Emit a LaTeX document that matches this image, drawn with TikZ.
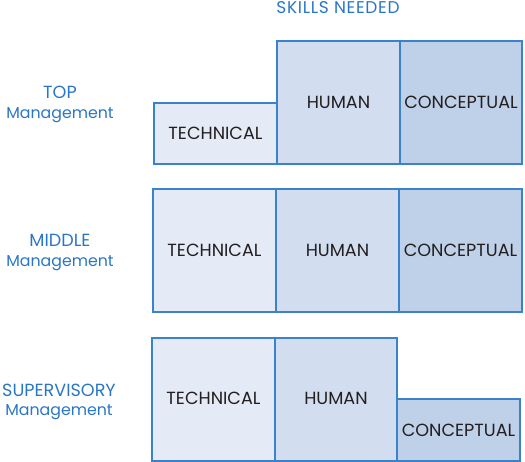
\documentclass[tikz,border=0pt]{standalone}
\usepackage{fontspec}
\setmainfont{Poppins}
\definecolor{edge}{HTML}{3A82CC}
\definecolor{techfill}{HTML}{E4EBF6}
\definecolor{humfill}{HTML}{D2DEF0}
\definecolor{confill}{HTML}{BFD0E9}
\definecolor{lab}{HTML}{2A76C6}
\definecolor{ink}{HTML}{231F20}
\begin{document}
\begin{tikzpicture}[x=1pt,y=-1pt,
  cell/.style={draw=edge,line width=1.2pt},
  tech/.style={cell,fill=techfill},
  hum/.style={cell,fill=humfill},
  con/.style={cell,fill=confill},
  word/.style={inner sep=0pt,text=ink,font=\fontsize{17.6}{20}\selectfont},
  capslbl/.style={inner sep=0pt,anchor=base,text=lab,font=\fontsize{17.6}{20}\selectfont},
  mglbl/.style={inner sep=0pt,anchor=base,text=lab,font=\fontsize{15.8}{20}\selectfont}]
\useasboundingbox (0,0) rectangle (525,462);
\node[capslbl,font=\fontsize{17}{20}\selectfont\addfontfeature{LetterSpace=4}] (skills) at (338,14) {SKILLS NEEDED};
% top
\node[capslbl] (toplab) at (60,99) {TOP};
\node[mglbl] (topmg) at (60,119) {Management};
\draw[tech] (154,103) rectangle (277,164);
\draw[hum] (277,41) rectangle (400,164);
\draw[con] (400,41) rectangle (522,164);
\node[word] (t1) at (215.5,133) {TECHNICAL};
\node[word] (h1) at (338.5,102) {HUMAN};
\node[word] (c1) at (461,102) {CONCEPTUAL};
% middle
\node[capslbl] (midlab) at (60,246.5) {MIDDLE};
\node[mglbl] (midmg) at (60,266.5) {Management};
\draw[tech] (153,189) rectangle (276,312);
\draw[hum] (276,189) rectangle (399,312);
\draw[con] (399,189) rectangle (522,312);
\node[word] (t2) at (214.5,250) {TECHNICAL};
\node[word] (h2) at (337.5,250) {HUMAN};
\node[word] (c2) at (460.5,250) {CONCEPTUAL};
% supervisory
\node[capslbl] (suplab) at (59,396) {SUPERVISORY};
\node[mglbl] (supmg) at (59,415.5) {Management};
\draw[tech] (152,338) rectangle (275,461);
\draw[hum] (275,338) rectangle (397,461);
\draw[con] (397,399) rectangle (520,461);
\node[word] (t3) at (213.5,398.5) {TECHNICAL};
\node[word] (h3) at (336,398.5) {HUMAN};
\node[word] (c3) at (458.5,430) {CONCEPTUAL};
\end{tikzpicture}
\end{document}
